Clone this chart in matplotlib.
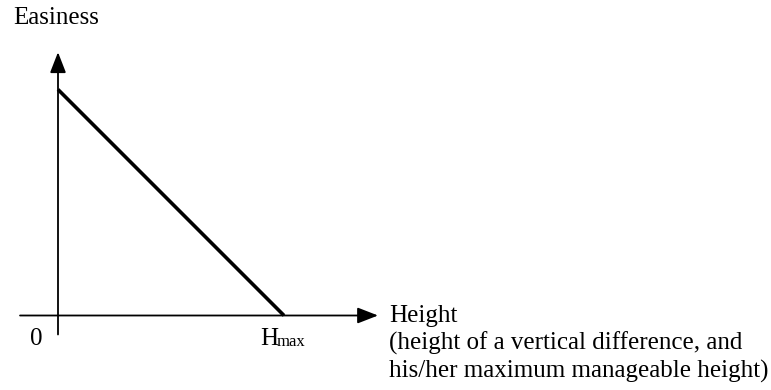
import numpy as np
import matplotlib.pyplot as plt

plt.rcParams['font.family'] = ['Liberation Serif', 'DejaVu Serif']

# Data: easiness falls linearly from its maximum at height 0 to zero at Hmax
height = [0.0, 1.0]
easiness = [1.0, 0.0]

y_label = 'Easiness'
x_label_lines = ['Height',
                 '(height of a vertical difference, and',
                 'his/her maximum manageable height)']
origin_label = '0'
hmax_main, hmax_sub = 'H', 'max'

W, H = 771, 390
fig = plt.figure(figsize=(W / 100, H / 100), dpi=100)
ax = fig.add_axes([0, 0, 1, 1])

# pixel origin of the plot at (58, 315.5), 1 unit ~ 226 px
ox, oy, sc = 58, 315.5, 226.0
ax.set_xlim(-ox / sc, (W - ox) / sc)
ax.set_ylim((oy - H) / sc, oy / sc)
ax.axis('off')


def px(x, y):
    return x / W, 1 - y / H


arrow = dict(arrowstyle='-|>,head_length=0.9,head_width=0.35',
             color='black', lw=1.3, mutation_scale=14, shrinkA=0, shrinkB=0)
# axes with arrows
ax.annotate('', xy=(1.416, 0), xytext=(-0.168, 0), arrowprops=arrow)
ax.annotate('', xy=(0, 1.165), xytext=(0, -0.084), arrowprops=arrow)

# easiness line
ax.plot(height, easiness, color='black', lw=2.6, solid_capstyle='butt')

fs = 18
fig.text(*px(13, 24), y_label, fontsize=fs, va='baseline', ha='left')
fig.text(*px(36.5, 345), origin_label, fontsize=fs, va='baseline', ha='center')
fig.text(*px(260, 345), hmax_main, fontsize=fs, va='baseline', ha='left')
fig.text(*px(277, 346), hmax_sub, fontsize=12, va='baseline', ha='left')
for i, line in enumerate(x_label_lines):
    fig.text(*px(389, 322 + 28 * i), line, fontsize=fs, va='baseline', ha='left')

fig.savefig('out.png', dpi=100)
